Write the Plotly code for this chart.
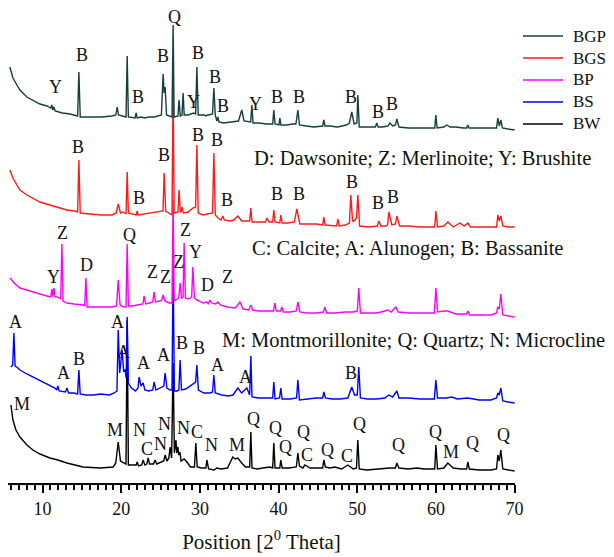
import plotly.graph_objects as go

# ---------------- data (2-theta, intensity incl. vertical offset) ----------------
BGP_x = [5.84,6.23,6.73,7.12,8.0,8.77,9.66,10.55,10.93,11.05,11.18,11.3,11.44,11.6,12.5,13.5,14.45,14.61,14.78,
         16.0,17.5,18.8,19.3,19.48,19.65,20.6,20.75,20.9,21.75,21.89,22.02,22.5,23.0,23.5,24.2,
         25.1,25.32,25.45,25.58,25.75,26.45,26.59,26.72,27.2,27.35,27.5,27.72,27.86,28.0,
         28.5,29.2,29.45,29.61,29.78,30.5,30.8,30.95,31.1,31.6,31.77,31.95,32.15,32.28,32.42,
         33.0,34.0,34.9,35.32,35.6,36.45,36.6,36.75,37.5,38.5,39.25,39.39,39.55,40.05,40.16,40.3,
         41.0,41.8,42.2,42.45,42.65,43.5,44.5,45.6,45.75,45.9,46.5,47.5,48.6,49.0,49.3,49.6,49.95,50.07,50.25,
         51.0,52.3,52.48,52.65,53.2,53.9,54.14,54.5,54.85,55.03,55.3,56.5,58.0,59.85,59.99,60.15,
         61.0,61.38,61.8,62.5,63.5,63.9,64.05,64.2,65.0,66.5,67.7,67.87,68.05,68.25,68.45,69.14,70.0]
BGP_y = [416,405,398,393,386,383,379,377,375,375,378,373,376,372,370,369,367,411,366,
         366,366,367,368,376,368,366,427,366,365,370,365,366,365,366,366,
         368,409,390,396,368,366,458,366,367,383,367,368,390,368,
         368,370,369,416,368,368,367,368,368,369,395,368,362,366,361,
         360,361,362,373,362,361,378,360,360,359,359,373,359,358,365,358,
         358,359,359,373,358,357,356,357,363,357,357,356,358,360,371,359,360,388,356,
         356,356,360,356,356,357,360,357,358,364,356,355,355,355,368,355,
         356,358,356,356,355,355,358,355,355,355,355,365,357,363,355,354,353]

BGS_x = [5.84,6.23,6.73,7.12,8.0,8.77,9.66,10.93,12.2,13.09,14.1,14.45,14.61,14.78,
         16.0,17.5,18.8,19.35,19.61,19.9,20.2,20.6,20.75,20.9,21.9,22.02,22.15,
         23.0,24.0,24.9,25.3,25.45,25.65,26.45,26.59,26.72,27.2,27.35,27.5,27.6,27.73,27.9,
         28.5,29.1,29.45,29.61,29.78,30.4,31.3,31.6,31.77,31.95,32.3,32.7,32.91,33.1,
         33.8,34.3,34.82,35.3,36.32,36.47,36.62,37.5,38.35,38.51,38.8,39.25,39.39,39.55,
         40.15,40.28,40.45,41.2,42.0,42.32,42.7,43.5,44.8,45.6,45.75,45.9,46.8,47.38,47.53,47.7,
         48.5,49.0,49.18,49.4,49.6,49.9,50.07,50.3,51.5,52.55,52.74,53.0,53.7,
         53.85,54.01,54.4,54.85,55.03,55.4,56.5,58.0,59.85,59.99,60.2,
         61.0,61.51,62.2,63.04,63.6,64.05,64.4,65.0,66.5,67.7,67.87,68.05,68.25,68.5,69.14,70.0]
BGS_y = [313,305,298,293,288,285,281,278,275,273,272,271,323,270,
         269,268,268,270,279,270,271,269,311,270,268,272,268,
         269,270,271,272,310,272,268,398,270,271,293,271,271,276,270,
         271,275,276,338,270,268,269,270,330,268,265,263,267,263,
         262,263,267,262,262,275,261,261,261,265,261,261,273,261,
         260,268,260,260,261,274,259,259,259,258,266,258,257,257,264,257,
         258,260,288,262,262,265,288,257,256,257,262,257,257,
         258,271,258,259,267,257,257,256,256,272,256,
         257,261,256,260,257,260,256,256,256,256,268,262,267,257,256,256]

BP_x = [5.84,6.5,7.12,8.0,8.77,9.8,10.93,11.05,11.18,11.3,11.44,11.6,11.9,12.3,12.45,12.6,
        13.09,14.0,15.2,15.35,15.5,15.65,16.5,17.5,18.8,19.4,19.61,19.85,20.3,20.6,20.75,20.9,
        21.5,22.0,22.75,22.9,23.1,23.6,24.0,24.17,24.35,24.9,25.15,25.32,25.55,25.83,26.1,
        26.45,26.59,26.72,27.1,27.3,27.48,27.65,27.85,27.99,28.15,28.6,28.95,29.1,29.3,29.45,29.61,29.9,
        30.4,30.88,31.1,31.26,31.5,32.0,32.28,32.6,33.5,34.5,35.07,35.5,36.2,36.47,36.7,
        37.5,38.6,39.35,39.52,39.7,40.25,40.41,40.6,41.5,42.25,42.45,42.7,43.5,44.8,45.7,45.88,46.1,
        47.2,48.5,49.5,50.0,50.19,50.4,51.5,52.5,53.5,53.88,54.3,54.9,55.2,56.5,58.0,59.8,59.99,60.2,
        61.0,61.5,62.5,63.9,64.05,64.3,65.5,67.0,67.7,67.87,68.05,68.25,68.5,69.2,70.0]
BP_y = [205,199,195,193,191,189,186,187,194,186,195,186,186,184,239,182,
        180,179,178,177,205,176,176,176,176,177,203,178,176,176,239,177,
        177,178,179,187,179,180,181,191,181,182,183,188,182,181,180,
        180,283,182,184,185,200,185,186,240,185,184,186,216,185,184,183,182,
        180,181,179,183,180,179,181,178,176,175,181,174,173,178,173,
        172,172,172,180,172,172,176,171,171,172,181,171,170,170,171,176,170,
        170,171,171,172,195,170,170,170,172,173,171,176,171,170,170,170,195,171,
        172,172,169,169,172,168,168,168,170,176,174,189,168,167,166]

BS_x = [5.97,6.2,6.35,6.5,6.73,7.12,8.0,8.77,9.8,10.93,11.56,11.8,11.94,12.1,12.9,13.09,13.3,
        14.0,14.45,14.61,14.78,15.5,16.5,17.32,18.5,19.1,19.45,19.61,19.8,20.11,20.3,20.49,20.62,20.75,20.9,21.3,21.8,
        22.12,22.27,22.5,22.78,23.0,23.5,24.0,24.17,24.4,24.9,25.4,25.58,25.8,26.2,26.45,26.59,26.75,
        27.1,27.32,27.48,27.65,28.2,28.97,29.3,29.45,29.61,29.8,30.5,31.3,31.6,31.77,31.95,
        32.8,33.6,34.2,34.82,35.3,35.96,36.2,36.32,36.47,36.62,37.5,38.6,39.25,39.39,39.55,
        40.12,40.28,40.45,41.5,42.28,42.45,42.65,43.5,44.8,45.6,45.75,45.95,
        46.8,47.8,48.8,49.3,49.65,50.0,50.19,50.4,51.3,52.5,53.5,54.01,54.5,55.03,55.3,
        56.5,58.0,59.8,59.99,60.2,61.3,62.02,62.7,64.05,65.5,67.0,67.7,67.87,68.05,68.25,68.5,69.2,70.0]
BS_y = [116,118,150,117,116,113,109,106,102,98,95,93,97,92,91,95,90,
        90,89,113,89,88,88,89,88,90,92,153,110,133,112,113,105,166,100,95,92,
        95,106,97,100,93,92,93,101,93,95,97,110,95,93,93,218,92,
        92,93,123,93,94,98,100,101,118,93,90,90,91,108,90,
        88,87,88,95,90,95,89,88,127,86,85,85,85,101,84,
        85,95,84,84,85,103,83,84,85,85,91,85,
        84,84,85,96,88,88,116,85,84,84,85,88,86,92,85,
        85,84,84,103,85,85,86,84,85,83,83,85,90,88,95,82,81,80]

BW_x = [5.97,6.23,6.61,7.12,8.0,8.77,9.66,10.93,11.94,13.09,15.12,17.32,18.97,19.3,19.61,19.9,
        20.6,20.75,20.9,21.5,21.9,22.02,22.2,22.6,22.78,23.0,23.25,23.41,23.6,24.1,24.3,24.5,
        24.9,25.4,25.58,25.8,26.05,26.21,26.4,26.59,26.75,26.95,27.05,27.2,27.3,27.45,27.6,28.0,28.34,28.8,
        29.3,29.48,29.65,30.2,30.75,30.88,31.1,31.8,32.15,32.7,33.5,34.18,34.5,34.82,35.3,35.8,
        36.32,36.47,36.62,37.3,38.0,38.9,39.25,39.39,39.55,40.15,40.28,40.45,41.3,42.25,42.45,42.65,
        43.08,43.34,44.0,45.0,45.6,45.75,45.95,46.5,47.15,48.0,48.8,49.5,49.9,50.07,50.25,
        51.2,52.5,54.14,54.85,55.03,55.3,56.5,57.57,58.5,59.85,59.99,60.2,
        61.0,61.51,62.2,63.2,63.9,64.05,64.25,65.5,67.0,67.7,67.87,68.05,68.25,68.5,69.2,70.0]
BW_y = [78,63,53,46,38,33,29,25,23,20,16,15,16,20,41,22,
        19,163,18,18,18,21,17,18,23,18,19,25,19,19,23,19,
        20,22,28,22,25,36,25,120,30,43,30,36,28,31,22,24,21,16,
        16,40,16,15,15,23,14,13,15,14,15,26,24,25,20,16,
        16,51,15,14,15,16,15,40,15,15,23,15,15,16,30,17,
        15,18,15,15,15,23,16,15,16,14,18,14,15,43,14,
        13,14,15,15,20,15,14,15,14,14,38,14,
        15,20,15,14,14,21,14,13,13,14,28,22,33,14,13,12]

series_names = ["BW", "BS", "BP", "BGS", "BGP"]
series_x = [BW_x, BS_x, BP_x, BGS_x, BGP_x]
series_y = [BW_y, BS_y, BP_y, BGS_y, BGP_y]
series_colors = ["#000000", "#0000ff", "#ff00ff", "#ff1a1a", "#173f3b"]

tick_vals = [10, 20, 30, 40, 50, 60, 70]

# phase labels: (letter, window pixel x, window pixel y)
phase_labels = [
    ("Q",174,17),("B",82,55),("Y",55,87),("B",138,97),("B",163,56),("B",198,53),("B",215,77),
    ("Y",193,102),("B",223,106),("Y",255,104),("B",277,97),("B",299,97),("B",351,97),("B",378,112),("B",392,104),
    ("B",78,147),("B",139,198),("B",164,155),("B",198,135),("B",217,140),("B",227,200),("B",277,194),
    ("B",299,194),("B",352,182),("B",378,203),("B",393,197),
    ("Z",62,233),("Y",53,277),("D",86,265),("Q",129,235),("Z",152,272),("Z",165,277),("Z",178,262),
    ("Z",185,230),("Y",195,252),("D",207,285),("Z",227,277),
    ("A",15,322),("A",63,373),("B",79,359),("A",117,322),("A",123,352),("A",143,363),("A",163,355),
    ("B",182,343),("B",199,348),("A",217,365),("A",245,377),("B",351,373),
    ("M",22,404),("M",115,430),("N",139,430),("C",147,449),("N",164,424),("N",160,444),("N",183,428),
    ("C",197,432),("N",211,445),("M",237,445),("Q",253,419),("Q",275,428),("Q",285,447),("Q",303,432),
    ("C",307,455),("Q",327,450),("C",347,456),("Q",359,424),("Q",398,445),("Q",435,432),("M",451,452),
    ("Q",472,443),("Q",503,435),
]
key_texts = [
    ("D: Dawsonite; Z: Merlinoite; Y: Brushite", 252, 158),
    ("C: Calcite; A: Alunogen; B: Bassanite", 250, 248),
    ("M: Montmorillonite; Q: Quartz; N: Microcline", 220, 340),
]

# ---------------- figure ----------------
BODY = 8                      # default page margin around the plot div
W, H = 614 - BODY, 557 - BODY
ML, MR, MT, MB = 0, 99, 0, 74
X0, X1 = 5.6, 70.05
PW = W - ML - MR
PH = H - MT - MB
Y0, Y1 = 0, PH
FONT = "Liberation Serif, Times New Roman, serif"

def px2x(px):
    return X0 + (px - BODY - ML) / PW * (X1 - X0)

def py2y(py):
    return Y1 - (py - BODY - MT)

fig = go.Figure()
for name, xs, ys, col in zip(series_names, series_x, series_y, series_colors):
    fig.add_trace(go.Scatter(x=xs, y=ys, mode="lines", name=name,
                             line=dict(color=col, width=1.4), showlegend=False))

ann = []
for t, px, py in phase_labels:
    ann.append(dict(x=px2x(px), y=py2y(py), text=t, showarrow=False,
                    xanchor="center", yanchor="middle",
                    font=dict(family=FONT, size=18, color="#111")))
for t, px, py in key_texts:
    ann.append(dict(x=px2x(px), y=py2y(py), text=t, showarrow=False,
                    xanchor="left", yanchor="middle",
                    font=dict(family=FONT, size=20.5, color="#111")))

# manual legend (top right)
shapes = []
leg_order = ["BGP", "BGS", "BP", "BS", "BW"]
for i, nm in enumerate(leg_order):
    col = series_colors[series_names.index(nm)]
    ly = 36 + 22 * i
    yp = py2y(ly) / PH
    shapes.append(dict(type="line", xref="paper", yref="paper",
                       x0=(523 - BODY - ML) / PW, x1=(563 - BODY - ML) / PW, y0=yp, y1=yp,
                       line=dict(color=col, width=1.6)))
    ann.append(dict(xref="paper", yref="paper", x=(571 - BODY - ML) / PW, y=yp, text=nm,
                    showarrow=False, xanchor="left", yanchor="middle",
                    font=dict(family=FONT, size=17, color="#111")))

fig.update_layout(
    width=W, height=H,
    margin=dict(l=ML, r=MR, t=MT, b=MB, pad=0),
    paper_bgcolor="white", plot_bgcolor="white",
    annotations=ann, shapes=shapes,
    xaxis=dict(range=[X0, X1], showgrid=False, zeroline=False,
               showline=True, linecolor="black", linewidth=2,
               ticks="outside", ticklen=8, tickwidth=2, tickcolor="black",
               tickvals=tick_vals, ticktext=[str(v) for v in tick_vals],
               tickfont=dict(family=FONT, size=18, color="#111"),
               minor=dict(dtick=1, tick0=0, ticks="outside", ticklen=5, tickwidth=1.5, tickcolor="black"),
               title=dict(text="Position [2<sup>0</sup> Theta]", standoff=17,
                          font=dict(family=FONT, size=21, color="#111"))),
    yaxis=dict(range=[Y0, Y1], visible=False, showgrid=False, zeroline=False),
)

fig.write_html("out.html")
